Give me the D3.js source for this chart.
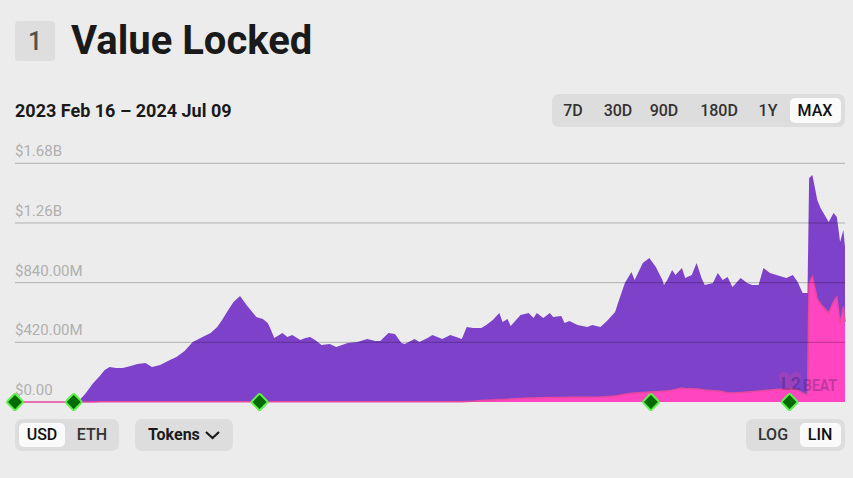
<!DOCTYPE html>
<html>
<head>
<meta charset="utf-8">
<script src="https://cdn.jsdelivr.net/npm/d3@7"></script>
<style>
  body { margin: 0; background: #ececec; font-family: Roboto, "Noto Sans", sans-serif; }
  svg { display: block; }
</style>
</head>
<body>
<div id="chart-area"></div>
<script>
// value locked, in millions of USD
const dates = [
    "2023-02-16","2023-03-24","2023-03-27","2023-03-31","2023-04-05","2023-04-09","2023-04-12","2023-04-15",
    "2023-04-19","2023-04-23","2023-04-28","2023-05-02","2023-05-07","2023-05-11","2023-05-16","2023-05-22",
    "2023-05-26","2023-05-31","2023-06-05","2023-06-11","2023-06-16","2023-06-20","2023-06-23","2023-06-26",
    "2023-06-30","2023-07-04","2023-07-08","2023-07-11","2023-07-14","2023-07-18","2023-07-21","2023-07-23",
    "2023-07-25","2023-07-30","2023-08-02","2023-08-05","2023-08-10","2023-08-13","2023-08-16","2023-08-19",
    "2023-08-23","2023-08-28","2023-09-01","2023-09-08","2023-09-14","2023-09-20","2023-09-25","2023-09-28",
    "2023-10-03","2023-10-07","2023-10-11","2023-10-13","2023-10-19","2023-10-22","2023-10-27","2023-10-30",
    "2023-11-05","2023-11-10","2023-11-17","2023-11-20","2023-11-24","2023-11-29","2023-12-02","2023-12-06",
    "2023-12-10","2023-12-12","2023-12-15","2023-12-17","2023-12-23","2023-12-28","2023-12-31","2024-01-02",
    "2024-01-06","2024-01-10","2024-01-12","2024-01-17","2024-01-19","2024-01-22","2024-01-27","2024-02-02",
    "2024-02-05","2024-02-10","2024-02-14","2024-02-19","2024-02-21","2024-02-25","2024-02-29","2024-03-02",
    "2024-03-07","2024-03-11","2024-03-15","2024-03-19","2024-03-20","2024-03-22","2024-03-25","2024-03-27",
    "2024-03-31","2024-04-02","2024-04-06","2024-04-09","2024-04-12","2024-04-14","2024-04-19","2024-04-22",
    "2024-04-25","2024-04-28","2024-05-01","2024-05-06","2024-05-10","2024-05-13","2024-05-17","2024-05-20",
    "2024-05-24","2024-05-28","2024-06-03","2024-06-07","2024-06-10","2024-06-13","2024-06-16","2024-06-17",
    "2024-06-19","2024-06-22","2024-06-24","2024-06-29","2024-07-02","2024-07-04","2024-07-06","2024-07-08",
    "2024-07-09"
];

const totalValues = [
    0, 0, 7, 56, 134, 183, 225, 246,
    239, 239, 253, 267, 274, 246, 260, 296,
    317, 359, 422, 458, 486, 528, 577, 633,
    704, 746, 683, 640, 598, 584, 556, 507,
    450, 486, 457, 472, 436, 450, 458, 436,
    401, 408, 387, 415, 422, 443, 429, 429,
    486, 479, 415, 408, 443, 422, 450, 472,
    443, 472, 443, 528, 521, 521, 542, 577,
    626, 563, 584, 535, 612, 626, 591, 626,
    591, 626, 598, 605, 556, 570, 542, 528,
    542, 528, 570, 633, 704, 838, 915, 859,
    978, 1014, 950, 859, 823, 859, 929, 894,
    943, 873, 894, 978, 873, 823, 838, 908,
    859, 880, 809, 873, 838, 823, 823, 943,
    908, 894, 873, 894, 845, 767, 767, 1577,
    1598, 1422, 1366, 1267, 1330, 1302, 1126, 1211,
    1091
];

const pinkValues = [
    0, 0, 0, 0, 0, 1, 1, 2,
    2, 2, 2, 2, 2, 2, 2, 2,
    2, 2, 2, 2, 2, 2, 2, 2,
    2, 2, 2, 2, 2, 2, 2, 2,
    2, 2, 2, 2, 2, 2, 2, 2,
    2, 2, 2, 2, 2, 2, 2, 2,
    2, 2, 2, 2, 2, 2, 2, 2,
    2, 2, 2, 3, 5, 10, 12, 14,
    17, 18, 20, 22, 25, 28, 28, 30,
    30, 31, 31, 32, 32, 33, 33, 34,
    34, 35, 37, 42, 45, 55, 62, 63,
    66, 70, 72, 75, 75, 78, 82, 88,
    98, 95, 93, 91, 88, 84, 80, 77,
    72, 66, 63, 66, 70, 73, 77, 80,
    84, 88, 91, 91, 84, 63, 49, 837,
    880, 725, 690, 626, 704, 739, 556, 669,
    563
];

const yTicks = [0, 420, 840, 1260, 1680];
const yTickLabels = ["$0.00", "$420.00M", "$840.00M", "$1.26B", "$1.68B"];

const milestones = ["2023-02-16", "2023-03-24", "2023-07-16", "2024-03-12", "2024-06-05"];

const rangeButtons = ["7D", "30D", "90D", "180D", "1Y", "MAX"];

const parse = d3.timeParse("%Y-%m-%d");
const data = dates.map((d, i) => ({ date: parse(d), total: totalValues[i], pink: pinkValues[i] }));

const svg = d3.select("#chart-area").append("svg")
    .attr("width", 853)
    .attr("height", 478)

// header
svg.append("rect").attr("x", 15).attr("y", 21).attr("width", 40).attr("height", 40)
    .attr("rx", 4).attr("fill", "#dedede")
svg.append("text").attr("x", 35).attr("y", 50).attr("text-anchor", "middle")
    .attr("font-size", 25).attr("font-weight", 500).attr("fill", "#525252").text("1")
svg.append("text").attr("x", 71).attr("y", 54)
    .attr("font-size", 40).attr("font-weight", 700).attr("fill", "#1a1a1a").text("Value Locked")

svg.append("text").attr("x", 15).attr("y", 117)
    .attr("font-size", 18).attr("font-weight", 700).attr("fill", "#1a1a1a")
    .text("2023 Feb 16 \u2013 2024 Jul 09")

// range buttons
svg.append("rect").attr("x", 552).attr("y", 94).attr("width", 293).attr("height", 33)
    .attr("rx", 7).attr("fill", "#dddddd")
svg.append("rect").attr("x", 790).attr("y", 98).attr("width", 51).attr("height", 25)
    .attr("rx", 5).attr("fill", "#fafafa")
const btnX = [573, 618, 664, 719, 768, 815];
svg.selectAll(".rbtn").data(rangeButtons).enter().append("text")
    .attr("x", (d, i) => btnX[i]).attr("y", 116)
    .attr("text-anchor", "middle").attr("font-size", 16).attr("font-weight", 500)
    .attr("fill", (d) => d == "MAX" ? "#111" : "#333")
    .text((d) => d)

// scales
const x = d3.scaleTime()
    .domain([parse("2023-02-16"), parse("2024-07-09")])
    .range([15, 845])

const y = d3.scaleLinear()
    .domain([0, 1680])
    .range([402, 163.3])

// tick labels
svg.selectAll(".ylab").data(yTicks).enter().append("text")
    .attr("x", 15).attr("y", (d) => y(d) - 7)
    .attr("font-size", 15).attr("fill", "#b0b0b0")
    .text((d, i) => yTickLabels[i])

const totalArea = d3.area()
    .x((d) => x(d.date)).y0(y(0)).y1((d) => y(d.total))

const pinkArea = d3.area()
    .x((d) => x(d.date)).y0(y(0)).y1((d) => y(d.pink))

const pinkLine = d3.line()
    .x((d) => x(d.date)).y((d) => y(d.pink))

svg.append("path").datum(data).attr("d", totalArea).attr("fill", "#7e42ca")
svg.append("path").datum(data).attr("d", pinkArea).attr("fill", "#ff46c0")
svg.append("path").datum(data).attr("d", pinkLine)
    .attr("fill", "none").attr("stroke", "#e8489e").attr("stroke-width", 1.5)

// grid lines over the areas
svg.selectAll(".grid").data(yTicks.filter((d) => d > 0)).enter().append("line")
    .attr("x1", 15).attr("x2", 845)
    .attr("y1", (d) => y(d)).attr("y2", (d) => y(d))
    .attr("stroke", "rgba(0,0,0,0.26)").attr("stroke-width", 1)

// watermark
const wm = svg.append("g").attr("opacity", 0.3)
wm.append("path")
    .attr("d", "M790,391 C777,382 776,372 784,372 C788,372 790,376 790,376 C790,376 792,372 796,372 C804,372 803,382 790,391 Z")
    .attr("fill", "#e0409a")
wm.append("text").attr("x", 781).attr("y", 390)
    .attr("font-size", 19).attr("font-weight", 700).attr("fill", "#3a1a5a")
    .attr("textLength", 20).attr("lengthAdjust", "spacingAndGlyphs").text("L2")
wm.append("text").attr("x", 803).attr("y", 391)
    .attr("font-size", 17).attr("font-weight", 700).attr("fill", "#3a1a5a")
    .attr("textLength", 34).attr("lengthAdjust", "spacingAndGlyphs").text("BEAT")

// milestone diamonds
svg.selectAll(".ms").data(milestones).enter().append("rect")
    .attr("x", -6).attr("y", -6).attr("width", 12).attr("height", 12)
    .attr("transform", (d) => `translate(${x(parse(d))},402) rotate(45)`)
    .attr("fill", "#006b00").attr("stroke", "#5cf04a").attr("stroke-width", 2).attr("rx", 1.5)

// bottom controls
svg.append("rect").attr("x", 15).attr("y", 419).attr("width", 104).attr("height", 32)
    .attr("rx", 7).attr("fill", "#dddddd")
svg.append("rect").attr("x", 19).attr("y", 423).attr("width", 46).attr("height", 24)
    .attr("rx", 5).attr("fill", "#fafafa")
svg.append("text").attr("x", 42).attr("y", 440).attr("text-anchor", "middle")
    .attr("font-size", 16).attr("font-weight", 500).attr("fill", "#111").text("USD")
svg.append("text").attr("x", 92).attr("y", 440).attr("text-anchor", "middle")
    .attr("font-size", 16).attr("font-weight", 500).attr("fill", "#333").text("ETH")

svg.append("rect").attr("x", 135).attr("y", 419).attr("width", 98).attr("height", 32)
    .attr("rx", 7).attr("fill", "#dddddd")
svg.append("text").attr("x", 148).attr("y", 440)
    .attr("font-size", 16).attr("font-weight", 700).attr("fill", "#1a1a1a").text("Tokens")
svg.append("path").attr("d", "M206,432 L212.5,438 L219,432")
    .attr("fill", "none").attr("stroke", "#1a1a1a").attr("stroke-width", 2.2)

svg.append("rect").attr("x", 746).attr("y", 419).attr("width", 99).attr("height", 32)
    .attr("rx", 7).attr("fill", "#dddddd")
svg.append("rect").attr("x", 800).attr("y", 423).attr("width", 41).attr("height", 24)
    .attr("rx", 5).attr("fill", "#fafafa")
svg.append("text").attr("x", 773).attr("y", 440).attr("text-anchor", "middle")
    .attr("font-size", 16).attr("font-weight", 500).attr("fill", "#333").text("LOG")
svg.append("text").attr("x", 820).attr("y", 440).attr("text-anchor", "middle")
    .attr("font-size", 16).attr("font-weight", 500).attr("fill", "#111").text("LIN")
</script>
</body>
</html>
